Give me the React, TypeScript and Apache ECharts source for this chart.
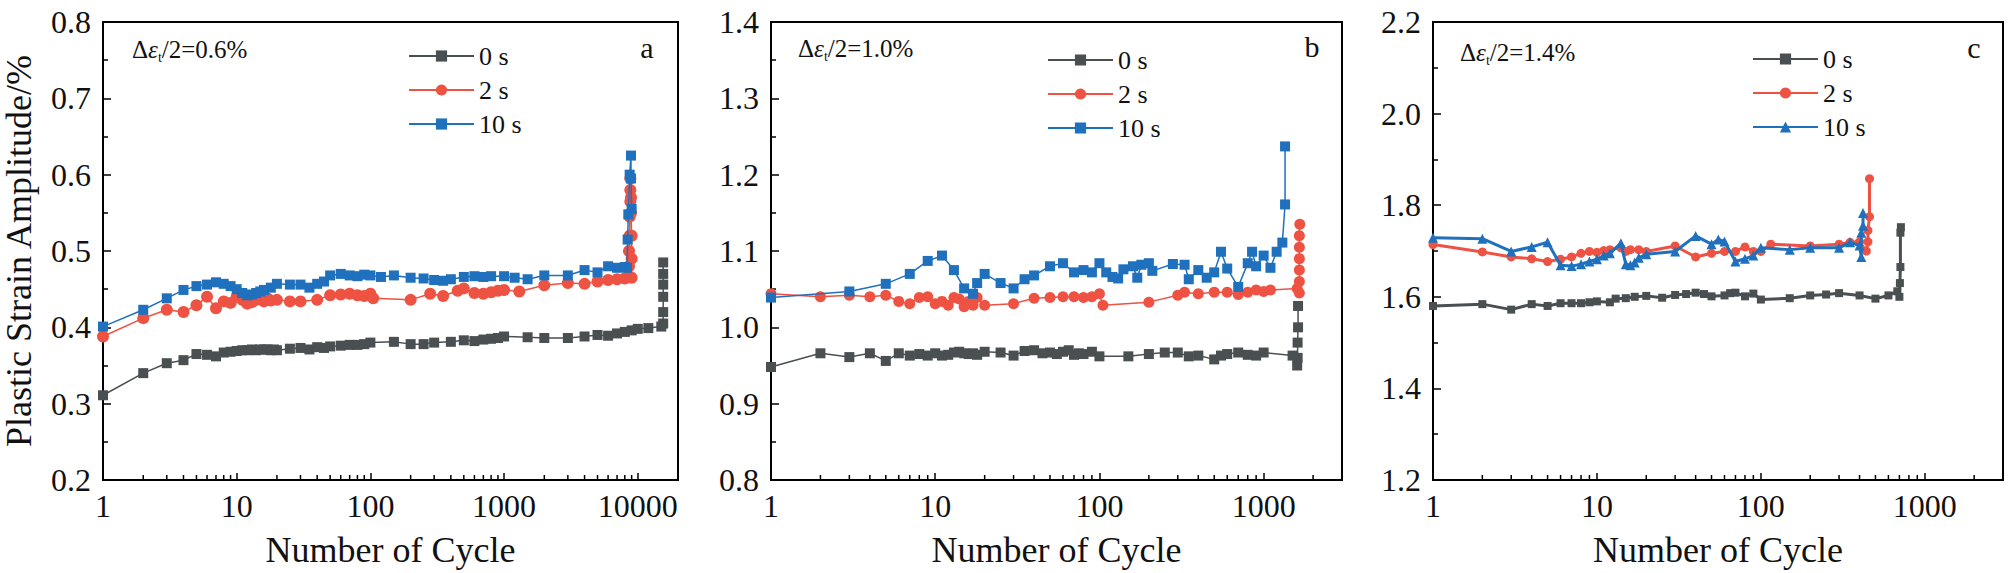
import React, { useEffect, useRef } from "react";
import * as echarts from "echarts";

// ---------- data: [cycle, plastic strain amplitude %] ----------
const a0s: [number, number][] = [[1,0.311],[2,0.340],[3,0.353],[4,0.357],[5,0.365],[6,0.364],[7,0.362],[8,0.367],[9,0.368],[10,0.369],[11,0.370],[12,0.370],[13,0.371],[14,0.370],[15,0.371],[16,0.371],[17,0.371],[18,0.370],[19,0.371],[20,0.370],[25,0.372],[30,0.373],[35,0.371],[40,0.374],[45,0.373],[50,0.375],[60,0.376],[70,0.377],[80,0.377],[90,0.378],[100,0.380],[150,0.381],[200,0.378],[250,0.378],[300,0.380],[400,0.381],[500,0.383],[600,0.382],[700,0.384],[800,0.385],[900,0.386],[1000,0.388],[1500,0.387],[2000,0.386],[3000,0.386],[4000,0.388],[5000,0.390],[6000,0.389],[7000,0.392],[8000,0.394],[9000,0.396],[10000,0.398],[12000,0.399],[15000,0.401],[15500,0.405],[15500,0.420],[15500,0.440],[15500,0.456],[15500,0.470],[15500,0.485]];
const a2s: [number, number][] = [[1,0.388],[2,0.412],[3,0.423],[4,0.420],[5,0.429],[6,0.440],[7,0.425],[8,0.434],[9,0.432],[10,0.440],[11,0.436],[12,0.431],[13,0.433],[14,0.436],[16,0.434],[17,0.438],[18,0.435],[20,0.436],[25,0.434],[30,0.434],[40,0.436],[50,0.442],[60,0.443],[70,0.444],[80,0.442],[90,0.441],[100,0.444],[105,0.438],[200,0.436],[280,0.444],[350,0.441],[450,0.448],[500,0.451],[600,0.445],[700,0.444],[800,0.446],[900,0.448],[1000,0.449],[1300,0.447],[2000,0.455],[3000,0.458],[4000,0.457],[5000,0.460],[6000,0.462],[7000,0.463],[8000,0.464],[8500,0.466],[8600,0.480],[8600,0.500],[8700,0.520],[8700,0.545],[8800,0.565],[8800,0.580],[8800,0.595],[8900,0.570],[8900,0.550],[9000,0.520],[9000,0.490],[9000,0.465]];
const a10s: [number, number][] = [[1,0.401],[2,0.423],[3,0.438],[4,0.449],[5,0.454],[6,0.456],[7,0.459],[8,0.457],[9,0.454],[10,0.450],[11,0.445],[12,0.442],[13,0.443],[14,0.445],[15,0.447],[16,0.449],[18,0.452],[20,0.457],[25,0.456],[30,0.456],[35,0.452],[40,0.457],[45,0.460],[50,0.468],[60,0.470],[70,0.468],[80,0.467],[90,0.469],[100,0.468],[120,0.466],[150,0.468],[200,0.465],[250,0.464],[300,0.462],[350,0.461],[400,0.463],[500,0.466],[600,0.467],[700,0.466],[800,0.467],[1000,0.467],[1200,0.465],[1500,0.463],[2000,0.468],[3000,0.468],[4000,0.475],[5000,0.472],[6000,0.480],[7000,0.478],[8000,0.479],[8300,0.478],[8400,0.515],[8500,0.548],[8700,0.600],[8900,0.625],[8900,0.595],[9000,0.555]];

const b0s: [number, number][] = [[1,0.948],[2,0.966],[3,0.961],[4,0.966],[5,0.956],[6,0.966],[7,0.963],[8,0.965],[9,0.963],[10,0.966],[11,0.963],[12,0.964],[13,0.967],[14,0.968],[15,0.966],[16,0.965],[17,0.966],[18,0.964],[20,0.968],[25,0.967],[30,0.963],[35,0.969],[40,0.970],[45,0.966],[50,0.967],[55,0.965],[60,0.968],[65,0.970],[70,0.964],[75,0.966],[80,0.965],[90,0.968],[100,0.962],[150,0.962],[200,0.965],[250,0.967],[300,0.967],[350,0.962],[400,0.963],[500,0.958],[550,0.963],[600,0.965],[700,0.967],[800,0.964],[900,0.963],[1000,0.967],[1500,0.963],[1600,0.950],[1610,0.960],[1610,0.980],[1620,1.000],[1620,1.028]];
const b2s: [number, number][] = [[1,1.044],[2,1.040],[3,1.042],[4,1.040],[5,1.042],[6,1.034],[7,1.031],[8,1.039],[9,1.040],[10,1.031],[11,1.034],[12,1.029],[13,1.039],[14,1.037],[15,1.027],[16,1.034],[17,1.029],[18,1.039],[20,1.029],[30,1.031],[40,1.038],[50,1.039],[60,1.040],[70,1.040],[80,1.039],[90,1.040],[100,1.044],[105,1.029],[200,1.033],[300,1.042],[330,1.046],[400,1.044],[500,1.046],[600,1.046],[700,1.043],[800,1.046],[900,1.049],[1000,1.047],[1100,1.049],[1600,1.051],[1650,1.045],[1650,1.060],[1650,1.075],[1650,1.090],[1650,1.105],[1650,1.120],[1660,1.135]];
const b10s: [number, number][] = [[1,1.039],[3,1.047],[5,1.057],[7,1.070],[9,1.087],[11,1.094],[13,1.075],[15,1.051],[17,1.044],[18,1.058],[20,1.070],[25,1.058],[30,1.051],[35,1.063],[40,1.068],[50,1.080],[60,1.084],[70,1.072],[80,1.075],[90,1.072],[100,1.084],[110,1.072],[120,1.066],[130,1.064],[140,1.076],[160,1.080],[170,1.065],[180,1.082],[200,1.084],[210,1.074],[280,1.083],[330,1.082],[350,1.063],[400,1.075],[450,1.065],[500,1.072],[550,1.099],[600,1.077],[700,1.053],[800,1.084],[850,1.099],[900,1.080],[1000,1.094],[1100,1.078],[1200,1.099],[1300,1.111],[1350,1.161],[1350,1.237]];

const c0s: [number, number][] = [[1,1.580],[2,1.584],[3,1.572],[4,1.584],[5,1.580],[6,1.586],[7,1.586],[8,1.586],[9,1.588],[10,1.590],[12,1.588],[13,1.596],[15,1.597],[17,1.600],[20,1.602],[25,1.598],[30,1.604],[35,1.606],[40,1.609],[45,1.606],[50,1.601],[60,1.603],[65,1.608],[70,1.609],[80,1.601],[90,1.607],[100,1.594],[150,1.597],[200,1.603],[250,1.605],[300,1.608],[400,1.603],[500,1.596],[600,1.603],[680,1.612],[700,1.600],[705,1.630],[710,1.665],[710,1.740],[715,1.752]];
const c2s: [number, number][] = [[1,1.714],[2,1.698],[3,1.687],[4,1.683],[5,1.677],[6,1.682],[7,1.687],[8,1.695],[9,1.699],[10,1.697],[11,1.701],[12,1.703],[14,1.707],[15,1.699],[16,1.703],[18,1.703],[20,1.699],[30,1.711],[40,1.687],[50,1.695],[60,1.699],[70,1.699],[80,1.709],[90,1.699],[100,1.699],[115,1.715],[200,1.711],[300,1.715],[350,1.719],[400,1.720],[440,1.700],[450,1.720],[450,1.745],[460,1.775],[460,1.858]];
const c10s: [number, number][] = [[1,1.729],[2,1.727],[3,1.699],[4,1.709],[5,1.719],[6,1.669],[7,1.667],[8,1.671],[9,1.677],[10,1.682],[11,1.690],[12,1.695],[14,1.717],[15,1.671],[16,1.669],[17,1.675],[18,1.685],[20,1.693],[30,1.699],[40,1.733],[50,1.715],[55,1.725],[60,1.721],[70,1.677],[80,1.683],[90,1.690],[100,1.707],[150,1.703],[200,1.707],[300,1.707],[350,1.719],[400,1.712],[410,1.687],[410,1.740],[420,1.755],[420,1.783]];

const legendNames = ["0 s", "2 s", "10 s"];
const panelLetters = ["a", "b", "c"];
const strainLabels = ["0.6%", "1.0%", "1.4%"];
const xMaxes = [20000, 3000, 3000];
const yMins = [0.2, 0.8, 1.2];
const yMaxes = [0.8, 1.4, 2.2];
const yIntervals = [0.1, 0.1, 0.2];

const GRAY = "#4a4f52";
const RED = "#ee5242";
const BLUE = "#1f70bd";
const FONT = "'Liberation Serif', 'Times New Roman', serif";

const grids = [
  { left: 103, right: 2013 - 678, top: 22, height: 458 },
  { left: 771, right: 2013 - 1342, top: 22, height: 458 },
  { left: 1433, right: 2013 - 2003, top: 22, height: 458 },
];
const legendPos = [
  { left: 403, top: 38, gap: 8 },
  { left: 1042, top: 42, gap: 8 },
  { left: 1747, top: 41, gap: 8 },
];
const notePos = [
  { x: 132, y: 52 },
  { x: 798, y: 51 },
  { x: 1460, y: 55 },
];
const letterPos = [
  { x: 647, y: 47 },
  { x: 1312, y: 46 },
  { x: 1974, y: 47 },
];

const panelData = [
  [a0s, a2s, a10s],
  [b0s, b2s, b10s],
  [c0s, c2s, c10s],
];

export default function App() {
  const ref = useRef<HTMLDivElement>(null);
  useEffect(() => {
    if (!ref.current) return;
    const chart = echarts.init(ref.current, null, { renderer: "svg" });
    const series: any[] = [];
    const legends: any[] = [];
    const xAxes: any[] = [];
    const yAxes: any[] = [];
    const graphics: any[] = [];

    for (let p = 0; p < 3; p++) {
      const thick = p === 2;
      const symbols = thick ? ["rect", "circle", "triangle"] : ["rect", "circle", "rect"];
      const sizes = thick ? [8, 9, 10] : p === 0 ? [10, 12, 10] : [10, 11, 10];
      const colors = [GRAY, RED, BLUE];
      const names: string[] = [];
      for (let s = 0; s < 3; s++) {
        const nm = panelLetters[p] + "|" + legendNames[s];
        names.push(nm);
        series.push({
          type: "line",
          name: nm,
          xAxisIndex: p,
          yAxisIndex: p,
          data: panelData[p][s],
          symbol: symbols[s],
          symbolSize: sizes[s],
          showSymbol: true,
          itemStyle: { color: colors[s] },
          lineStyle: { color: colors[s], width: thick ? 3 : 1.5 },
          z: 3 + s,
        });
      }
      // log minor ticks (2..9 x 10^k) on the bottom axis
      const minor: [number, number][] = [];
      for (let k = 1; k < xMaxes[p]; k *= 10)
        for (let m = 2; m <= 9; m++) if (m * k < xMaxes[p]) minor.push([m * k, yMins[p]]);
      series.push({
        type: "custom",
        xAxisIndex: p,
        yAxisIndex: p,
        silent: true,
        clip: false,
        data: minor,
        z: 10,
        renderItem: (_params: any, api: any) => {
          const pt = api.coord([api.value(0), api.value(1)]);
          return {
            type: "line",
            shape: { x1: pt[0], y1: pt[1], x2: pt[0], y2: pt[1] - 5 },
            style: { stroke: "#000", lineWidth: 1.5 },
          };
        },
      });

      legends.push({
        left: legendPos[p].left,
        top: legendPos[p].top,
        orient: "vertical",
        itemWidth: 65,
        itemHeight: 14,
        itemGap: legendPos[p].gap,
        data: names,
        selectedMode: false,
        formatter: (n: string) => n.split("|")[1],
        textStyle: { fontFamily: FONT, fontSize: 26, color: "#111" },
      });

      xAxes.push({
        type: "log",
        logBase: 10,
        gridIndex: p,
        min: 1,
        max: xMaxes[p],
        name: "Number of Cycle",
        nameLocation: "middle",
        nameGap: 52,
        nameTextStyle: { fontFamily: FONT, fontSize: 36, color: "#111" },
        axisLine: { lineStyle: { color: "#000", width: 2 } },
        axisTick: { inside: true, length: 7, lineStyle: { color: "#000", width: 1.5 } },
        axisLabel: {
          fontFamily: FONT,
          fontSize: 32,
          color: "#111",
          margin: 10,
          showMaxLabel: false,
          formatter: (v: number) => {
            const r = Math.round(v);
            const lg = Math.log10(r);
            return Math.abs(lg - Math.round(lg)) < 1e-6 ? String(r) : "";
          },
        },
        splitLine: { show: false },
      });
      yAxes.push({
        type: "value",
        gridIndex: p,
        min: yMins[p],
        max: yMaxes[p],
        interval: yIntervals[p],
        name: p === 0 ? "Plastic Strain Amplitude/%" : "",
        nameLocation: "middle",
        nameGap: 66,
        nameTextStyle: { fontFamily: FONT, fontSize: 36, color: "#111" },
        axisLine: { show: true, lineStyle: { color: "#000", width: 2 } },
        axisTick: { show: true, inside: true, length: 8, lineStyle: { color: "#000", width: 1.5 } },
        minorTick: { show: true, splitNumber: 2, length: 5, lineStyle: { color: "#000", width: 1.5 } },
        axisLabel: {
          fontFamily: FONT,
          fontSize: 32,
          color: "#111",
          margin: 12,
          formatter: (v: number) => v.toFixed(1),
        },
        splitLine: { show: false },
      });

      graphics.push({
        type: "text",
        left: notePos[p].x,
        top: notePos[p].y - 15,
        style: {
          text: "{d|Δ}{e|ε}{t|t}{d|/2=" + strainLabels[p] + "}",
          rich: {
            d: { fontFamily: FONT, fontSize: 25, fill: "#111" },
            e: { fontFamily: FONT, fontSize: 25, fontStyle: "italic", fill: "#111" },
            t: { fontFamily: FONT, fontSize: 14, fill: "#111", padding: [16, 0, 0, 0] },
          },
        },
      });
      graphics.push({
        type: "text",
        x: letterPos[p].x,
        y: letterPos[p].y,
        style: {
          text: panelLetters[p],
          fontFamily: FONT,
          fontSize: 30,
          fill: "#111",
          align: "center",
          verticalAlign: "middle",
        },
      });
    }

    chart.setOption({
      animation: false,
      backgroundColor: "#fff",
      grid: grids.map((g) => ({ ...g, show: true, borderColor: "#000", borderWidth: 2, backgroundColor: "transparent" })),
      legend: legends,
      xAxis: xAxes,
      yAxis: yAxes,
      series,
      graphic: graphics,
    });
    return () => chart.dispose();
  }, []);
  return <div ref={ref} style={{ position: "absolute", left: 0, top: 0, width: 2013, height: 573 }} />;
}
